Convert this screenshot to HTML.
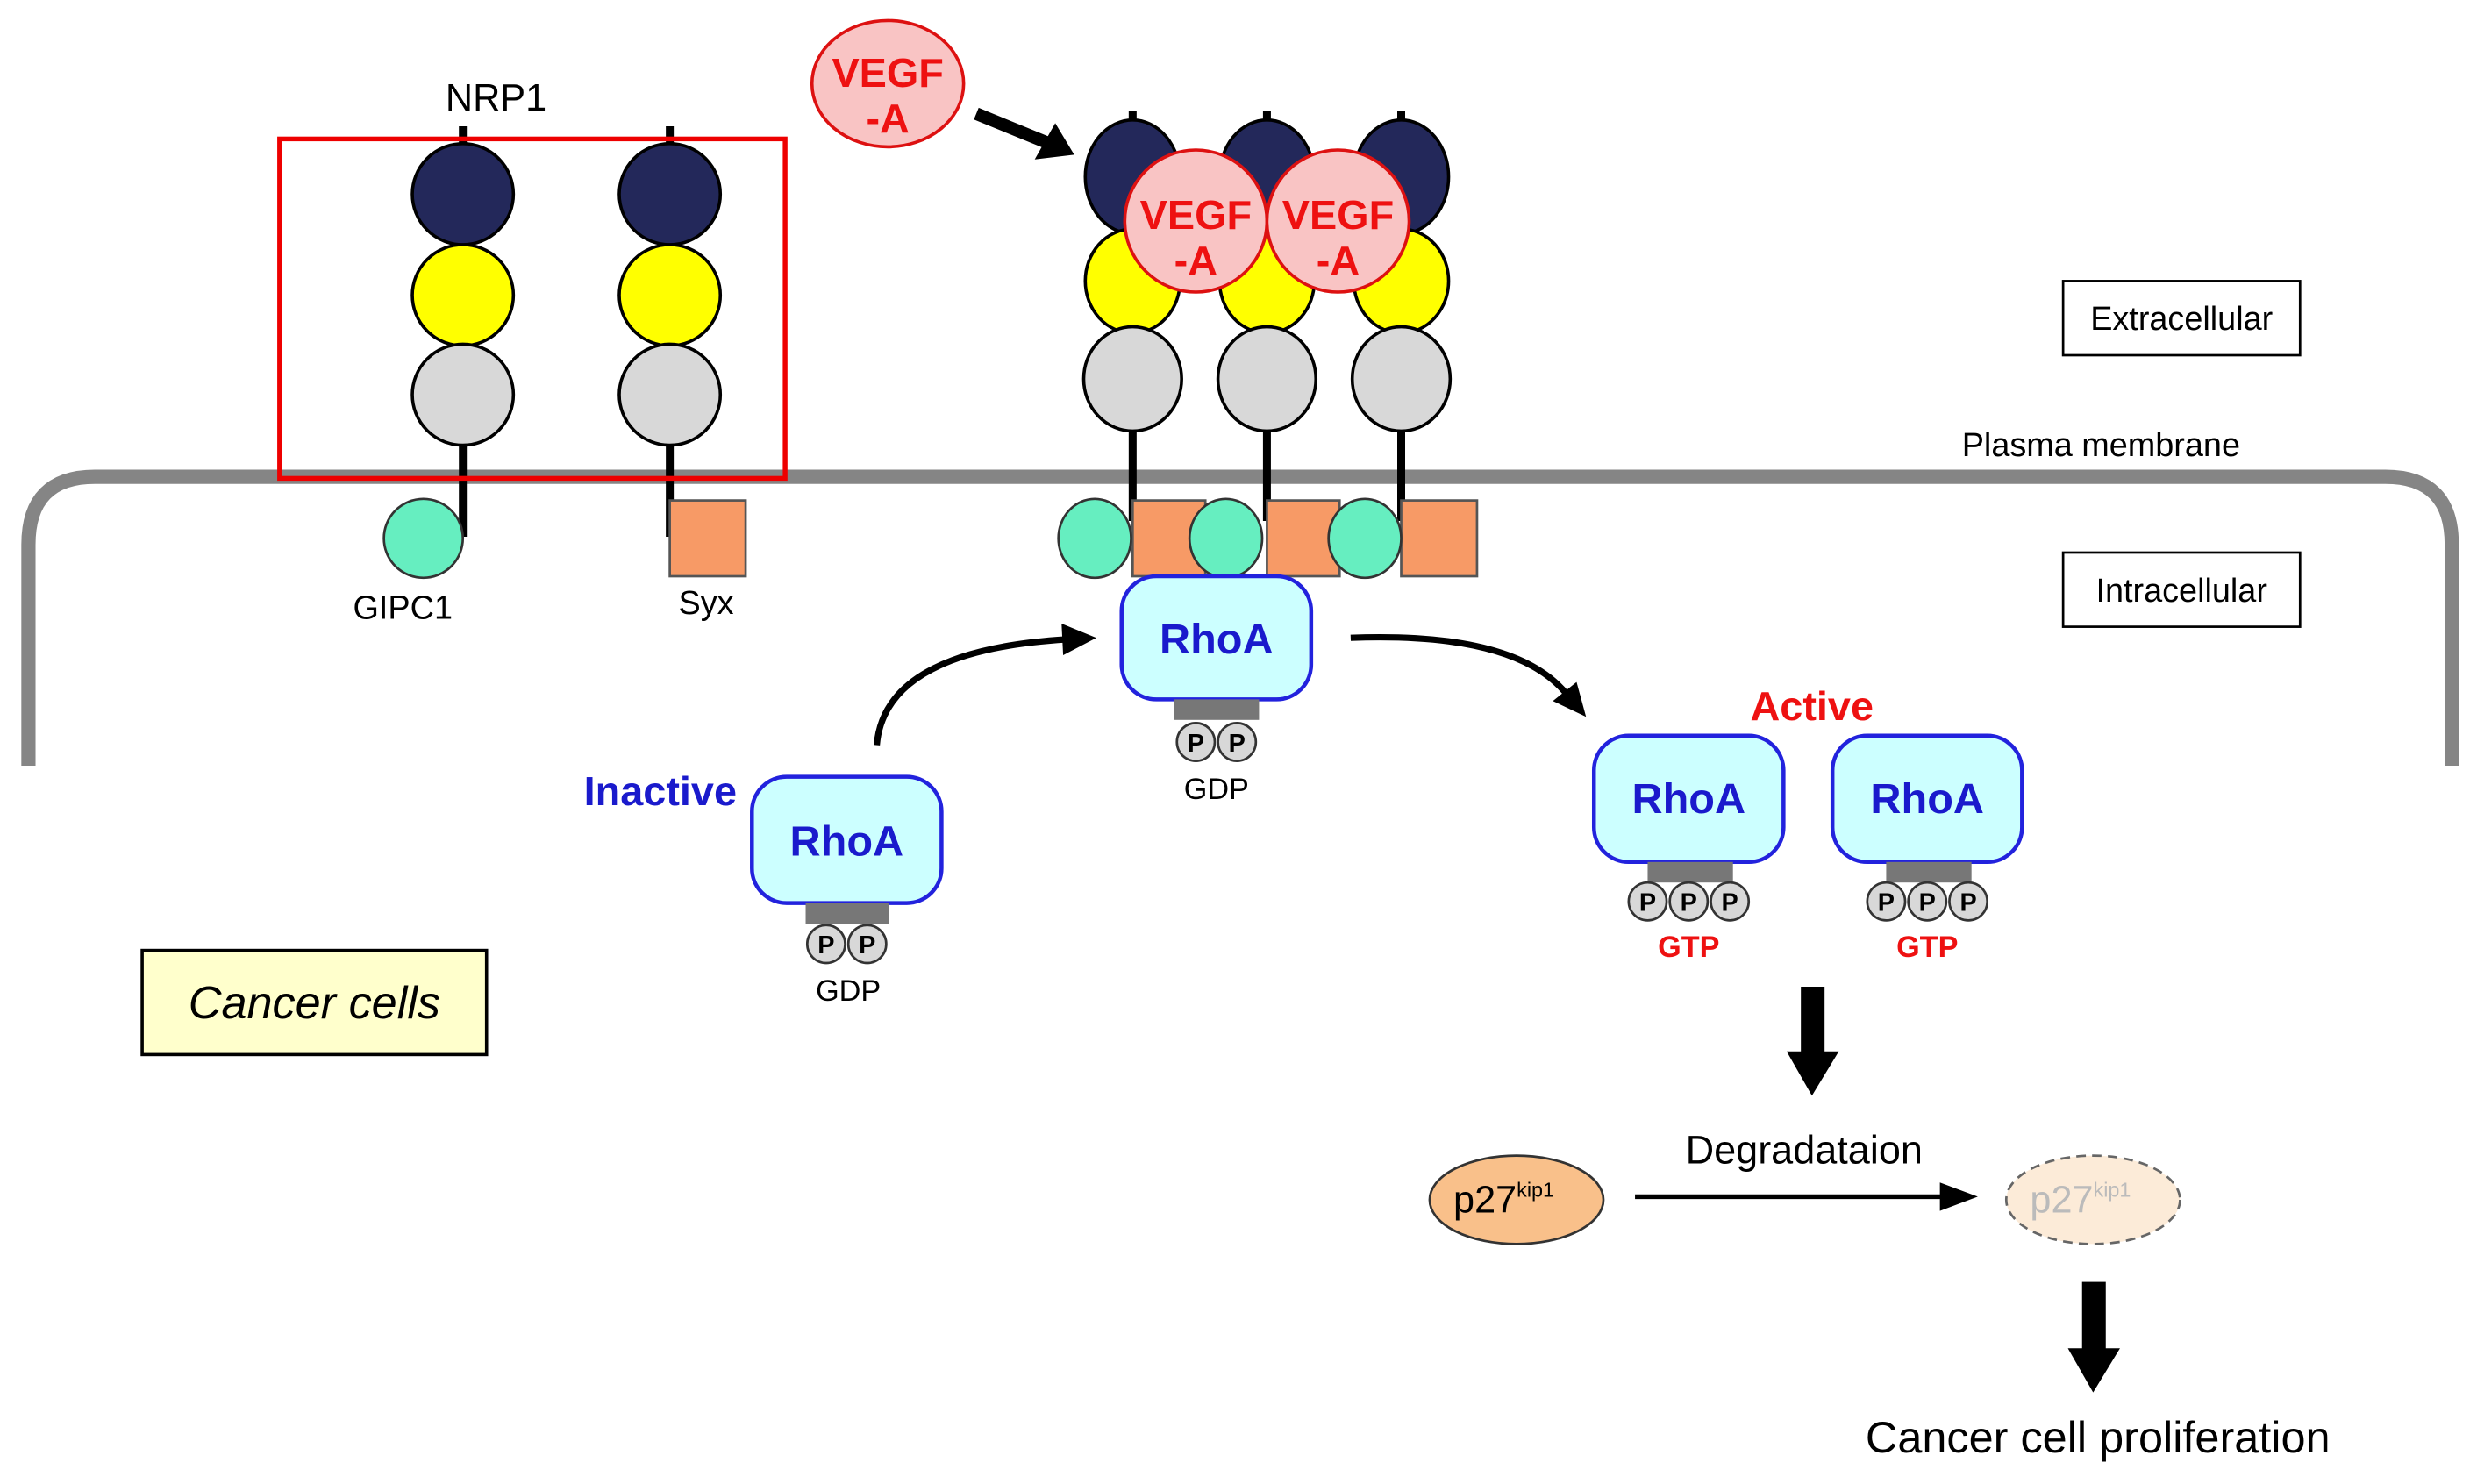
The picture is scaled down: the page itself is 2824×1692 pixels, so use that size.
<!DOCTYPE html>
<html><head><meta charset="utf-8"><style>html,body{margin:0;padding:0;background:#fff}svg{display:block}text{font-family:"Liberation Sans",Arial,sans-serif}</style></head>
<body>
<svg width="2824" height="1692" viewBox="0 0 1568 940" preserveAspectRatio="none" xmlns="http://www.w3.org/2000/svg">
<path d="M18,485 L18,345 Q18,302 60,302 L1510,302 Q1552,302 1552,345 L1552,485" fill="none" stroke="#858585" stroke-width="9"/>
<text x="1330" y="289" font-size="21" text-anchor="middle">Plasma membrane</text>
<rect x="1306" y="178" width="150" height="47" fill="#fff" stroke="#000" stroke-width="1.5"/>
<text x="1381" y="209" font-size="21" text-anchor="middle">Extracellular</text>
<rect x="1306" y="350" width="150" height="47" fill="#fff" stroke="#000" stroke-width="1.5"/>
<text x="1381" y="381" font-size="21" text-anchor="middle">Intracellular</text>
<text x="314" y="70" font-size="24" text-anchor="middle">NRP1</text>
<g stroke="#000" stroke-width="2">
<line x1="293" y1="80" x2="293" y2="95" stroke-width="5"/><line x1="424" y1="80" x2="424" y2="95" stroke-width="5"/>
<line x1="293" y1="280" x2="293" y2="340" stroke-width="5"/><line x1="424" y1="280" x2="424" y2="340" stroke-width="5"/>
<circle cx="293" cy="123" r="32" fill="#23285a"/><circle cx="424" cy="123" r="32" fill="#23285a"/>
<circle cx="293" cy="187" r="32" fill="#ffff00"/><circle cx="424" cy="187" r="32" fill="#ffff00"/>
<circle cx="293" cy="250" r="32" fill="#d8d8d8"/><circle cx="424" cy="250" r="32" fill="#d8d8d8"/>
</g>
<circle cx="268" cy="341" r="25" fill="#66eec0" stroke="#333" stroke-width="1.5"/>
<rect x="424" y="317" width="48" height="48" fill="#f79a66" stroke="#555" stroke-width="1.5"/>
<text x="255" y="392" font-size="21" text-anchor="middle">GIPC1</text>
<text x="447" y="389" font-size="21" text-anchor="middle">Syx</text>
<rect x="177" y="88" width="320" height="215" fill="none" stroke="#ee0000" stroke-width="3"/>
<g stroke="#000" stroke-width="2">
<line x1="717" y1="70" x2="717" y2="85" stroke-width="5"/><line x1="802" y1="70" x2="802" y2="85" stroke-width="5"/><line x1="887" y1="70" x2="887" y2="85" stroke-width="5"/>
<line x1="717" y1="270" x2="717" y2="330" stroke-width="5"/><line x1="802" y1="270" x2="802" y2="330" stroke-width="5"/><line x1="887" y1="270" x2="887" y2="330" stroke-width="5"/>
<ellipse cx="717" cy="112" rx="30" ry="36" fill="#23285a"/><ellipse cx="802" cy="112" rx="30" ry="36" fill="#23285a"/><ellipse cx="887" cy="112" rx="30" ry="36" fill="#23285a"/>
<ellipse cx="717" cy="178" rx="30" ry="33" fill="#ffff00"/><ellipse cx="802" cy="178" rx="30" ry="33" fill="#ffff00"/><ellipse cx="887" cy="178" rx="30" ry="33" fill="#ffff00"/>
<ellipse cx="717" cy="240" rx="31" ry="33" fill="#d8d8d8"/><ellipse cx="802" cy="240" rx="31" ry="33" fill="#d8d8d8"/><ellipse cx="887" cy="240" rx="31" ry="33" fill="#d8d8d8"/>
</g>
<g stroke="#555" stroke-width="1.5" fill="#f79a66">
<rect x="717" y="317" width="46" height="48"/><rect x="802" y="317" width="46" height="48"/><rect x="887" y="317" width="48" height="48"/>
</g>
<g stroke="#333" stroke-width="1.5" fill="#66eec0">
<ellipse cx="693" cy="341" rx="23" ry="25"/><ellipse cx="776" cy="341" rx="23" ry="25"/><ellipse cx="864" cy="341" rx="23" ry="25"/>
</g>
<g fill="#f9c4c4" stroke="#dd1111" stroke-width="2">
<circle cx="757" cy="140" r="45"/><circle cx="847" cy="140" r="45"/>
<ellipse cx="562" cy="53" rx="48" ry="40"/>
</g>
<g fill="#ee1111" font-weight="bold" font-size="26" text-anchor="middle">
<text x="757" y="145">VEGF</text><text x="757" y="174">-A</text>
<text x="847" y="145">VEGF</text><text x="847" y="174">-A</text>
<text x="562" y="55">VEGF</text><text x="562" y="84">-A</text>
</g>
<line x1="618" y1="72" x2="662" y2="90" stroke="#000" stroke-width="8"/>
<polygon points="680,98 655,101 668,78" fill="#000"/>
<g fill="#ccffff" stroke="#2222dd" stroke-width="2.5">
<rect x="710" y="365" width="120" height="78" rx="22"/>
<rect x="476" y="492" width="120" height="80" rx="22"/>
<rect x="1009" y="466" width="120" height="80" rx="22"/>
<rect x="1160" y="466" width="120" height="80" rx="22"/>
</g>
<g fill="#1a1acc" font-weight="bold" font-size="27" text-anchor="middle">
<text x="770" y="414">RhoA</text><text x="536" y="542">RhoA</text><text x="1069" y="515">RhoA</text><text x="1220" y="515">RhoA</text>
</g>
<g fill="#777">
<rect x="743" y="443" width="54" height="13"/><rect x="510" y="572" width="53" height="13"/>
<rect x="1043" y="546" width="54" height="13"/><rect x="1194" y="546" width="54" height="13"/>
</g>
<g fill="#d8d8d8" stroke="#333" stroke-width="1.5">
<circle cx="757" cy="470" r="12"/><circle cx="783" cy="470" r="12"/>
<circle cx="523" cy="598" r="12"/><circle cx="549" cy="598" r="12"/>
<circle cx="1043" cy="571" r="12"/><circle cx="1069" cy="571" r="12"/><circle cx="1095" cy="571" r="12"/>
<circle cx="1194" cy="571" r="12"/><circle cx="1220" cy="571" r="12"/><circle cx="1246" cy="571" r="12"/>
</g>
<g font-size="16" font-weight="bold" text-anchor="middle">
<text x="757" y="476">P</text><text x="783" y="476">P</text><text x="523" y="604">P</text><text x="549" y="604">P</text>
<text x="1043" y="577">P</text><text x="1069" y="577">P</text><text x="1095" y="577">P</text>
<text x="1194" y="577">P</text><text x="1220" y="577">P</text><text x="1246" y="577">P</text>
</g>
<text x="770" y="506" font-size="19" text-anchor="middle">GDP</text>
<text x="537" y="634" font-size="19" text-anchor="middle">GDP</text>
<text x="1069" y="606" font-size="19" font-weight="bold" fill="#ee1111" text-anchor="middle">GTP</text>
<text x="1220" y="606" font-size="19" font-weight="bold" fill="#ee1111" text-anchor="middle">GTP</text>
<text x="418" y="510" font-size="26" font-weight="bold" fill="#1a1acc" text-anchor="middle">Inactive</text>
<text x="1147" y="456" font-size="26" font-weight="bold" fill="#ee1111" text-anchor="middle">Active</text>
<path d="M555,472 Q560,412 675,405" fill="none" stroke="#000" stroke-width="4"/>
<polygon points="694,404 672,395 673,415" fill="#000"/>
<path d="M855,404 Q960,400 992,440" fill="none" stroke="#000" stroke-width="4"/>
<polygon points="1004,454 983,444 998,432" fill="#000"/>
<rect x="90" y="602" width="218" height="66" fill="#ffffcc" stroke="#000" stroke-width="2"/>
<text x="199" y="645" font-size="29" font-style="italic" text-anchor="middle">Cancer cells</text>
<rect x="1140" y="625" width="15" height="43" fill="#000"/>
<polygon points="1131,666 1164,666 1147,694" fill="#000"/>
<rect x="1318" y="812" width="15" height="44" fill="#000"/>
<polygon points="1309,854 1342,854 1325,882" fill="#000"/>
<ellipse cx="960" cy="760" rx="55" ry="28" fill="#f9c08a" stroke="#333" stroke-width="1.5"/>
<text x="952" y="768" font-size="24" text-anchor="middle">p27<tspan font-size="13" dy="-10">kip1</tspan></text>
<line x1="1035" y1="758" x2="1232" y2="758" stroke="#000" stroke-width="3"/>
<polygon points="1252,758 1228,749 1228,767" fill="#000"/>
<text x="1142" y="737" font-size="25" text-anchor="middle">Degradataion</text>
<ellipse cx="1325" cy="760" rx="55" ry="28" fill="#fcebd8" stroke="#666" stroke-width="1.5" stroke-dasharray="6,4"/>
<text x="1317" y="768" font-size="24" fill="#bbb" text-anchor="middle">p27<tspan font-size="13" dy="-10">kip1</tspan></text>
<text x="1328" y="920" font-size="28" text-anchor="middle">Cancer cell proliferation</text>
</svg>
</body></html>
